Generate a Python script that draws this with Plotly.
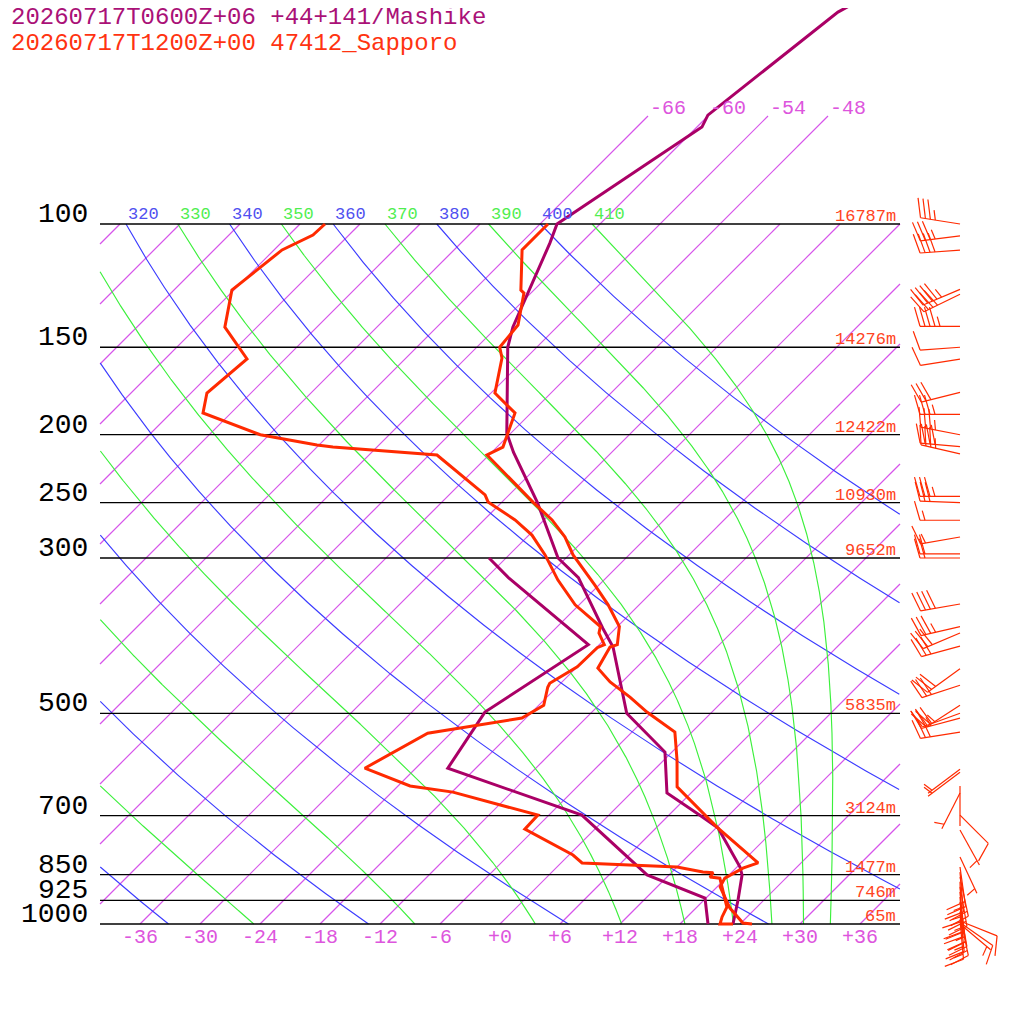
import numpy as np
import plotly.graph_objects as go

# standard levels and Sapporo heights
levels_hpa = [100, 150, 200, 250, 300, 500, 700, 850, 925, 1000]
levels_height_m = [16787, 14276, 12422, 10930, 9652, 5835, 3124, 1477, 746, 65]

# Mashike (model) temperature / dew point
mashike_p = [47.9, 49.8, 69.9, 72.7, 100, 106.5, 140.4, 150, 199, 212, 250, 300, 320,
             378, 402, 448, 500, 568, 650, 699, 729, 829, 851, 924, 1000]
mashike_t = [-56.4, -57.4, -60.1, -59.5, -64.3, -63.1, -58.4, -56.9, -48.4, -45.8, -38.4,
             -30.8, -26.8, -19.3, -16.4, -12.4, -8.4, -0.7, 3.6, 9.1, 12.2, 18.3, 19.3, 21.4, 23.3]
mashike_dp_p = [300, 320, 399, 498, 599, 699, 851, 918, 1000]
mashike_dp = [-37.7, -33.8, -19.1, -22.7, -20.8, -2.7, 9.8, 17.9, 20.8]

# Sapporo (47412) sounding
sapporo_p = [100, 108.9, 124.3, 125.5, 139.4, 150, 155.4, 174.4, 186.2, 208.3, 213.8, 250,
             264.7, 280, 297, 328, 350, 376, 399, 402, 431, 451, 474, 498, 532, 583, 637,
             727, 818, 832, 860, 885, 949, 997, 1000]
sapporo_t = [-65.2, -65.2, -61.3, -60.7, -58.1, -57.7, -56.4, -53.6, -49.6, -47.4, -48.2,
             -38.8, -35.2, -32.2, -29.6, -24.4, -21.1, -17.8, -16.2, -16.7, -15.8, -13.2,
             -9.7, -6.5, -1.7, 1.3, 4.0, 12.0, 19.7, 18.7, 17.9, 18.3, 21.4, 24.2, 25.2]
sapporo_dp_p = [100, 103.7, 108.9, 124.3, 140.4, 155.9, 174.4, 186.2, 200, 206.9, 208.3,
                213.8, 243.8, 249.5, 264.7, 278.2, 297, 322.6, 350, 376, 384, 399, 403, 429,
                453, 459, 487, 508, 534, 599, 635, 648, 699, 732, 797, 818, 829, 843, 845,
                857, 860, 885, 946, 977, 1000, 1000]
sapporo_dp = [-87.5, -87.6, -89.2, -90.2, -87.2, -81.8, -82.4, -80.8, -72.9, -66.2, -64.4,
              -53.2, -44.4, -43.4, -38.9, -35.7, -32.4, -28.6, -24.4, -19.7, -19.2, -17.5,
              -17.9, -18.0, -19.1, -18.9, -17.5, -18.4, -26.3, -29.1, -22.8, -17.9, -7.1,
              -7.0, 0.4, 2.1, 12.0, 15.1, 16.2, 16.3, 17.4, 18.5, 21.0, 21.5, 22.0, 23.3]

# Sapporo winds
wind_p = [100, 104, 109, 124, 126, 140, 150, 156, 174, 187, 200, 208, 213, 245, 250, 265,
          280, 296, 300, 349, 376, 384, 401, 432, 456, 487, 500, 508, 532, 601, 607, 635,
          650, 699, 734, 802, 829, 843, 857, 870, 885, 900, 915, 930, 946, 960, 975, 985,
          990, 995, 1000]
wind_dir = [279, 263, 266, 247, 244, 270, 266, 261, 256, 270, 281, 275, 283, 270, 272, 270,
            260, 270, 270, 260, 257, 247, 255, 234, 252, 237, 250, 255, 261, 233, 233, 180,
            207, 135, 151, 155, 172, 175, 168, 178, 170, 174, 176, 172, 170, 174, 168, 175,
            112, 125, 130]
wind_kt = [35, 35, 40, 45, 40, 45, 10, 10, 30, 35, 35, 40, 35, 35, 30, 15, 15, 20, 20, 40,
           35, 30, 30, 30, 30, 25, 30, 25, 25, 5, 5, 0, 5, 10, 5, 5, 20, 15, 20, 15, 20,
           15, 20, 15, 20, 15, 20, 15, 10, 10, 5]

isotherm_temps = list(range(-108, 37, 6))
isotherm_top_temps = [-66, -60, -54, -48]
dry_thetas = list(range(240, 401, 20))
moist_thetas = list(range(250, 411, 20))
theta_labels = list(range(320, 411, 10))
bottom_temps = list(range(-36, 37, 6))

SKEW = 70.0          # deg per decade of pressure
TOP_EXT = 808 / 700  # isotherm labels sit above 100 hPa
KAPPA = 0.2857
MONO = "Liberation Mono"


def skx(t, p):
    return np.asarray(t) + SKEW * (3 - np.log10(p))


def clip_box(x, p):
    x = np.array(x, dtype=float)
    out = (x < -40) | (x > 40)
    x[out] = np.nan
    return [None if np.isnan(v) else float(v) for v in x], [float(v) for v in p]


fig = go.Figure()

# isotherms
xs, ys = [], []
for t in isotherm_temps:
    top = TOP_EXT if t in isotherm_top_temps else 1.0
    lo = max(0.0, (-40 - t) / SKEW)
    hi = min(top, (40 - t) / SKEW)
    if hi <= lo:
        continue
    xs += [t + SKEW * lo, t + SKEW * hi, None]
    ys += [10 ** (3 - lo), 10 ** (3 - hi), None]
fig.add_trace(go.Scatter(x=xs, y=ys, mode="lines",
                         line=dict(color="#d655ea", width=1.2), hoverinfo="skip"))

# dry adiabats
pp = np.logspace(2, 3, 1400)
xs, ys = [], []
for th in dry_thetas:
    t = th * (pp / 1000) ** KAPPA - 273.15
    cx, cy = clip_box(skx(t, pp), pp)
    xs += cx + [None]
    ys += cy + [None]
fig.add_trace(go.Scatter(x=xs, y=ys, mode="lines", line=dict(color="#3c3cff", width=1.15),
                         hoverinfo="skip"))

# moist adiabats, integrated down from 100 hPa
Rd, Cp, Lv, eps = 287.04, 1005.7, 2.501e6, 0.622


def dtdp(T, p):
    es = 6.112 * np.exp(17.67 * (T - 273.15) / (T - 29.65))
    rs = eps * es / (p - es)
    return (Rd * T + Lv * rs) / (Cp + Lv * Lv * rs * eps / (Rd * T * T)) / p


T = np.array(moist_thetas, dtype=float) * 0.1 ** KAPPA
ps = np.linspace(100, 1000, 1801)
rows = [T.copy()]
for i in range(len(ps) - 1):
    p0, h = ps[i], ps[i + 1] - ps[i]
    k1 = dtdp(T, p0)
    k2 = dtdp(T + h * k1 / 2, p0 + h / 2)
    k3 = dtdp(T + h * k2 / 2, p0 + h / 2)
    k4 = dtdp(T + h * k3, p0 + h)
    T = T + h * (k1 + 2 * k2 + 2 * k3 + k4) / 6
    rows.append(T.copy())
moist = np.array(rows)
xs, ys = [], []
for j in range(len(moist_thetas)):
    cx, cy = clip_box(skx(moist[:, j] - 273.15, ps), ps)
    xs += cx + [None]
    ys += cy + [None]
fig.add_trace(go.Scatter(x=xs, y=ys, mode="lines", line=dict(color="#3cf03c", width=1.15),
                         hoverinfo="skip"))

# pressure lines
xs, ys = [], []
for p in levels_hpa:
    xs += [-40, 40, None]
    ys += [p, p, None]
fig.add_trace(go.Scatter(x=xs, y=ys, mode="lines", line=dict(color="black", width=1.3),
                         hoverinfo="skip"))

# profiles
MASH = "#aa0066"
SAP = "#ff2a00"
fig.add_trace(go.Scatter(x=skx(mashike_t, mashike_p), y=mashike_p, mode="lines",
                         line=dict(color=MASH, width=3)))
fig.add_trace(go.Scatter(x=skx(mashike_dp, mashike_dp_p), y=mashike_dp_p, mode="lines",
                         line=dict(color=MASH, width=3)))
fig.add_trace(go.Scatter(x=skx(sapporo_t, sapporo_p), y=sapporo_p, mode="lines",
                         line=dict(color=SAP, width=3)))
fig.add_trace(go.Scatter(x=skx(sapporo_dp, sapporo_dp_p), y=sapporo_dp_p, mode="lines",
                         line=dict(color=SAP, width=3)))

# wind barbs (pixel lengths: staff 40, feather 20, spacing 5)
BARB_X = 46.0


def barb(p0, bearing, kt):
    b = np.radians(bearing)
    sx, sy = np.sin(b), np.cos(b)
    a = np.radians(74)
    fx = np.cos(a) * sx + np.sin(a) * sy
    fy = np.cos(a) * sy - np.sin(a) * sx

    def pt(u, v):
        return BARB_X + u / 10, 10 ** (np.log10(p0) - v / 700)

    out_x, out_y = [], []

    def seg(u0, v0, u1, v1):
        x0, y0 = pt(u0, v0)
        x1, y1 = pt(u1, v1)
        out_x.extend([x0, x1, None])
        out_y.extend([y0, y1, None])

    seg(0, 0, 40 * sx, 40 * sy)
    n10, n5 = kt // 10, (kt % 10) // 5
    k = 0
    for _ in range(n10):
        d = 40 - 5 * k
        seg(d * sx, d * sy, d * sx + 20 * fx, d * sy + 20 * fy)
        k += 1
    if n5:
        if n10 == 0:
            k = 1
        d = 40 - 5 * k
        seg(d * sx, d * sy, d * sx + 10 * fx, d * sy + 10 * fy)
    return out_x, out_y


bx, by = [], []
for p, d, s in zip(wind_p, wind_dir, wind_kt):
    x, y = barb(p, d, s)
    bx += x
    by += y
fig.add_trace(go.Scatter(x=bx, y=by, mode="lines", line=dict(color=SAP, width=1.2),
                         hoverinfo="skip"))

ann = []
for p, h in zip(levels_hpa, levels_height_m):
    ann.append(dict(x=-41.0, y=np.log10(p), text=str(p), xanchor="right", yanchor="bottom",
                    yshift=-8, font=dict(family=MONO, size=28, color="black")))
    ann.append(dict(x=39.8, y=np.log10(p), text=f"{h}m", xanchor="right", yanchor="bottom",
                    yshift=-4, font=dict(family=MONO, size=17, color="#ff4422")))
for t in bottom_temps:
    ann.append(dict(x=t, y=3.0186, text=f"{t:+d}", xanchor="center", yanchor="middle",
                    font=dict(family=MONO, size=20, color="#dd55dd")))
for t in isotherm_top_temps:
    ann.append(dict(x=t + SKEW * TOP_EXT, y=3 - TOP_EXT, text=f"{t:d}", xanchor="left",
                    yanchor="bottom", yshift=-6, font=dict(family=MONO, size=20, color="#dd55dd")))
for th in theta_labels:
    ann.append(dict(x=th * 0.1 ** KAPPA - 273.15 + SKEW, y=2.0, text=str(th), xanchor="left",
                    yanchor="bottom", yshift=-2,
                    font=dict(family=MONO, size=17,
                              color="#5050f0" if th % 20 == 0 else "#50ee50")))

# header lines, centred on their glyph rows
ann.append(dict(x=-49.15, y=3 - 907 / 700, text="20260717T0600Z+06 +44+141/Mashike",
                xanchor="left", yanchor="middle",
                font=dict(family=MONO, size=24, color="#aa1177")))
ann.append(dict(x=-49.15, y=3 - 881 / 700, text="20260717T1200Z+00 47412_Sapporo",
                xanchor="left", yanchor="middle",
                font=dict(family=MONO, size=24, color="#ff3311")))
for a in ann:
    a.update(xref="x", yref="y", showarrow=False)

# page body adds an 8 px margin, so the ranges start 8 px in
fig.update_layout(
    width=1024, height=1024,
    margin=dict(l=0, r=0, t=0, b=0),
    paper_bgcolor="white", plot_bgcolor="white",
    showlegend=False,
    annotations=ann,
    xaxis=dict(range=[-49.2, 53.2], visible=False, fixedrange=True),
    yaxis=dict(type="log", range=[3 + 108 / 700, 3 - 916 / 700], visible=False,
               fixedrange=True),
)

fig.write_html("out.html")
